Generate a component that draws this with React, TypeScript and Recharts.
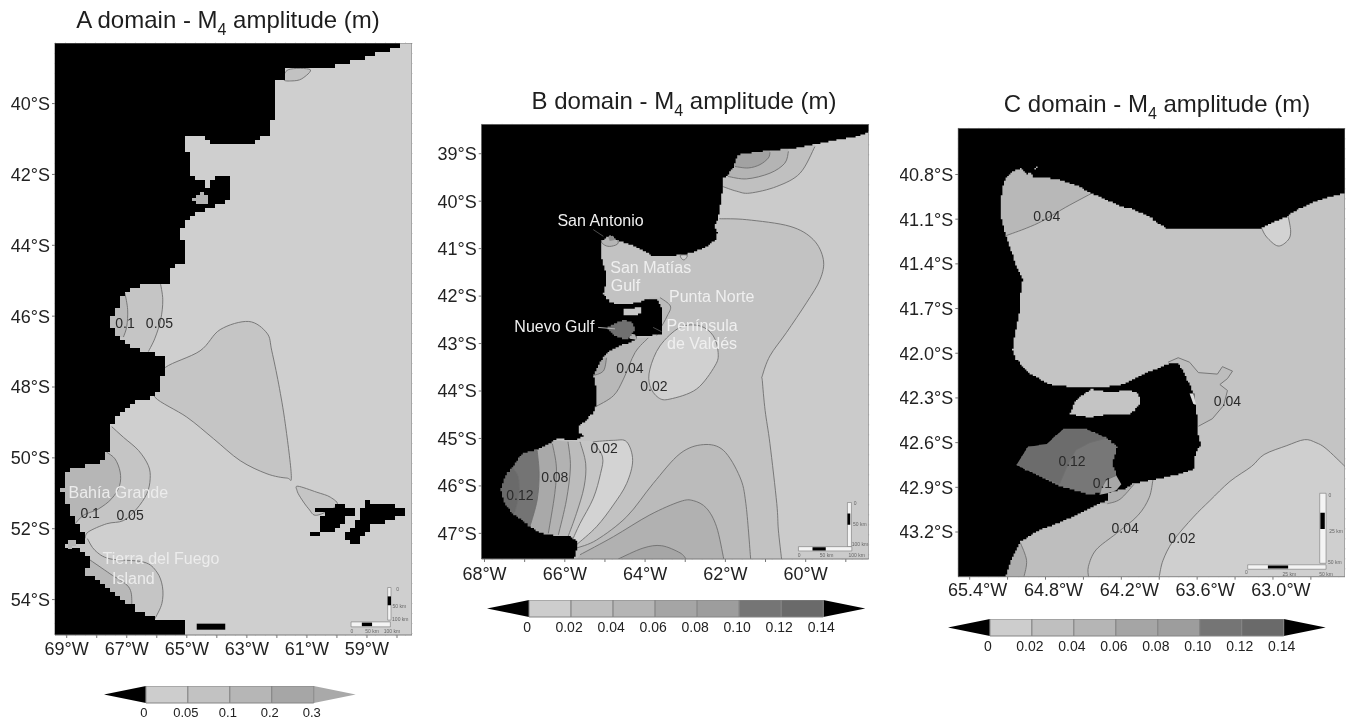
import React from 'react';
import { ScatterChart, Scatter, XAxis, YAxis, CartesianGrid } from 'recharts';

type P = [number, number];
const FONT = '"Liberation Sans", Arial, sans-serif';

/* ---------- Panel A (lon, lat) ---------- */
const aLonTicks = [-69, -68, -67, -66, -65, -64, -63, -62, -61, -60, -59, -58];
const aLonLabelled = [-69, -67, -65, -63, -61, -59];
const aLatTicks = [-40, -42, -44, -46, -48, -50, -52, -54];
const aLand: P[] = [[-57.98,-38.1],[-57.98,-38.4],[-58.28,-38.5],[-58.5,-38.54],[-59.06,-38.73],[-59.5,-38.8],[-60,-38.92],[-60.56,-39.01],[-60.94,-39.04],[-61.61,-39.04],[-61.78,-39.3],[-62.02,-39.48],[-62.06,-40.09],[-62.11,-40.33],[-62.22,-40.89],[-62.56,-40.99],[-63.06,-41.19],[-63.94,-41.19],[-64.33,-40.99],[-64.83,-40.89],[-65,-40.83],[-65.13,-41.08],[-64.94,-41.5],[-64.94,-41.88],[-65.02,-41.97],[-64.78,-42.16],[-64.44,-42.21],[-64.44,-42.37],[-64.11,-42.37],[-64.2,-42.16],[-63.94,-42.04],[-63.64,-42.07],[-63.5,-42.39],[-63.56,-42.72],[-63.83,-42.86],[-64.17,-42.91],[-64.33,-42.96],[-64.67,-43.1],[-64.89,-43.24],[-65.17,-43.57],[-65.26,-43.66],[-65.14,-43.99],[-65.14,-44.51],[-65.39,-44.6],[-65.61,-44.74],[-65.5,-45.07],[-66.11,-45.07],[-66.44,-45.12],[-66.94,-45.28],[-67.22,-45.59],[-67.33,-45.87],[-67.61,-46.1],[-67.5,-46.34],[-67.33,-46.57],[-66.78,-46.95],[-65.89,-47.12],[-65.72,-47.16],[-65.72,-47.54],[-65.83,-47.82],[-65.89,-48.06],[-66.06,-48.29],[-66.39,-48.34],[-66.78,-48.53],[-67.11,-48.76],[-67.44,-49],[-67.61,-49.18],[-67.61,-49.84],[-67.89,-50.12],[-68.33,-50.22],[-68.83,-50.36],[-69.02,-50.5],[-69.02,-50.83],[-69.17,-50.83],[-69.14,-51.11],[-69,-51.15],[-68.94,-51.58],[-68.72,-51.91],[-68.44,-52.23],[-68.33,-52.4],[-69.02,-52.38],[-69.02,-52.56],[-68.67,-52.52],[-68.28,-52.85],[-68.22,-53.08],[-68.39,-53.31],[-67.89,-53.55],[-67.44,-53.88],[-66.94,-54.16],[-66.5,-54.39],[-66,-54.58],[-65.14,-54.6],[-65.14,-55.2],[-69.6,-55.2],[-69.6,-38.1]];
const aFalkWest: P[] = [[-60.67,-51.39],[-60.11,-51.39],[-59.94,-51.3],[-59.78,-51.34],[-59.72,-51.44],[-59.28,-51.46],[-59.44,-51.62],[-59.67,-51.77],[-59.89,-51.95],[-60.06,-52.09],[-60.89,-52.23],[-60.89,-52.05],[-60.67,-52.05],[-60.56,-51.86],[-60.67,-51.72],[-60.44,-51.58],[-60.67,-51.53]];
const aFalkEast: P[] = [[-59,-51.2],[-58.83,-51.25],[-58.33,-51.31],[-57.78,-51.44],[-57.76,-51.6],[-57.94,-51.67],[-58.22,-51.81],[-58.78,-51.91],[-58.89,-52.09],[-59.24,-52.23],[-59.28,-52.4],[-59.5,-52.38],[-59.72,-52.19],[-59.72,-52.05],[-59.44,-51.86],[-59.17,-51.58],[-59.17,-51.39]];
const aBlock: P[] = [[-64.67,-54.68],[-63.72,-54.68],[-63.72,-54.85],[-64.67,-54.85]];
const aWedge: P[] = [[-62.94,-46.15],[-62.33,-46.48],[-62.17,-46.98],[-61.94,-47.92],[-61.72,-49.04],[-61.52,-50.5],[-61.67,-50.57],[-62.33,-50.45],[-63.22,-50.08],[-64.11,-49.46],[-65,-48.85],[-66.06,-48.29],[-66,-47.9],[-65.72,-47.45],[-64.56,-46.98],[-63.89,-46.38]];
const aP46Out: P[] = [[-65.89,-45.02],[-65.8,-45.54],[-65.87,-46.1],[-66.06,-46.62],[-66.28,-47]];
const aP46OutEnd: P[] = [[-67.89,-47],[-67.89,-45.02]];
const aP46In: P[] = [[-67.06,-45.35],[-66.97,-45.82],[-67,-46.29],[-67.11,-46.59]];
const aP46InEnd: P[] = [[-67.89,-46.59],[-67.89,-45.35]];
const aTop: P[] = [[-61.61,-39.04],[-60.89,-39.04],[-61.17,-39.3],[-61.5,-39.36],[-61.78,-39.32]];
const aBahiaOut: P[] = [[-67.5,-49.12],[-67.11,-49.42],[-66.61,-49.79],[-66.28,-50.22],[-66.22,-50.59],[-66.33,-51.01],[-66.67,-51.44],[-67.11,-51.77],[-67.67,-51.86],[-68.28,-52.09],[-68.39,-52.28]];
const aBahiaOutEnd: P[] = [[-69.3,-52.28],[-69.3,-49.12]];
const aBahiaIn: P[] = [[-67.67,-49.84],[-67.39,-50.03],[-67.22,-50.4],[-67.24,-50.78],[-67.5,-51.15],[-67.94,-51.44],[-68.44,-51.62],[-68.72,-51.86]];
const aBahiaInEnd: P[] = [[-69.3,-51.86],[-69.3,-49.84]];
const aTdfOut: P[] = [[-68.31,-52.28],[-68.06,-52.61],[-67.56,-52.85],[-66.44,-52.94],[-66,-53.22],[-65.81,-53.64],[-65.83,-54.11],[-66.06,-54.54]];
const aTdfOutEnd: P[] = [[-66.5,-54.7],[-69.3,-54.7],[-69.3,-52.28]];
const aTdfIn: P[] = [[-68.28,-52.85],[-67.56,-53.27],[-66.94,-53.64],[-66.83,-54.07],[-66.89,-54.25]];
const aTdfInEnd: P[] = [[-69.3,-54.25],[-69.3,-52.85]];
const aFalkContour: P[] = [[-61.3,-50.8],[-60.67,-50.97],[-60.22,-51.11],[-60,-51.34],[-60.67,-51.62],[-60.94,-51.44],[-61.22,-51.11],[-61.33,-50.92]];
const aGulf: P[] = [[-64.89,-42.69],[-64.56,-42.52],[-64.33,-42.63],[-64.36,-42.86],[-64.56,-42.84]];
const aChannel: P[] = [[-69.02,-52.33],[-68.67,-52.33],[-68.67,-52.52],[-69.02,-52.56]];
const aLabelsDark = [
  { lon: -67.06, lat: -46.2, text: '0.1' }, { lon: -65.91, lat: -46.18, text: '0.05' },
  { lon: -68.22, lat: -51.55, text: '0.1' }, { lon: -66.89, lat: -51.6, text: '0.05' },
];
const aLabelsWhite = [
  { lon: -67.28, lat: -50.99, text: 'Bahía Grande' }, { lon: -65.86, lat: -52.83, text: 'Tierra del Fuego' },
  { lon: -66.78, lat: -53.41, text: 'Island' },
];
const aScaleH: P[] = [[-59.53,-54.63],[-58.22,-54.63],[-58.22,-54.77],[-59.53,-54.77]];
const aScaleHBlack: P[] = [[-59.17,-54.65],[-58.83,-54.65],[-58.83,-54.75],[-59.17,-54.75]];
const aScaleV: P[] = [[-58.31,-53.66],[-58.2,-53.66],[-58.2,-54.58],[-58.31,-54.58]];
const aScaleVBlack: P[] = [[-58.31,-53.91],[-58.2,-53.91],[-58.2,-54.16],[-58.31,-54.16]];
const aScaleText = [
  { lon: -59.5, lat: -54.89, text: '0' }, { lon: -58.83, lat: -54.89, text: '50 km' }, { lon: -58.17, lat: -54.89, text: '100 km' },
  { lon: -57.98, lat: -53.69, text: '0' }, { lon: -57.92, lat: -54.19, text: '50 km' }, { lon: -57.89, lat: -54.56, text: '100 km' },
];

/* ---------- Panel B ---------- */
const bLonTicks = [-68, -67, -66, -65, -64, -63, -62, -61, -60, -59];
const bLonLabelled = [-68, -66, -64, -62, -60];
const bLatTicks = [-39, -40, -41, -42, -43, -44, -45, -46, -47];
const bLand: P[] = [[-58.3,-38.2],[-58.3,-38.5],[-58.73,-38.64],[-59.4,-38.74],[-60.23,-38.88],[-61.06,-38.95],[-61.68,-39.02],[-61.79,-39.3],[-62.05,-39.55],[-62.09,-39.9],[-62.15,-40.25],[-62.22,-40.49],[-62.3,-40.51],[-62.2,-40.67],[-62.24,-40.81],[-62.43,-40.95],[-62.8,-41.09],[-63.22,-41.14],[-63.84,-41.14],[-64.05,-41.02],[-64.38,-40.91],[-64.71,-40.81],[-64.84,-40.72],[-64.96,-40.77],[-65.08,-40.84],[-65.11,-41.16],[-65,-41.44],[-64.96,-41.72],[-65.04,-41.96],[-64.88,-42.14],[-64.54,-42.17],[-64.21,-42.14],[-64,-42.08],[-63.84,-42.05],[-63.67,-42.1],[-63.59,-42.28],[-63.57,-42.81],[-63.88,-42.83],[-64.17,-42.85],[-64.25,-42.95],[-64.54,-43.02],[-64.88,-43.16],[-65.13,-43.4],[-65.29,-43.7],[-65.21,-43.99],[-65.23,-44.34],[-65.29,-44.48],[-65.5,-44.65],[-65.67,-44.76],[-65.67,-44.9],[-65.5,-44.93],[-65.71,-45.04],[-66.16,-45],[-66.46,-45.14],[-66.66,-45.23],[-67.04,-45.32],[-67.29,-45.6],[-67.49,-45.81],[-67.6,-46.09],[-67.49,-46.4],[-67.29,-46.61],[-66.87,-46.86],[-66.62,-47],[-66.21,-47.05],[-65.87,-47.07],[-65.71,-47.17],[-65.71,-47.35],[-65.79,-47.7],[-68.3,-47.7],[-68.3,-38.2]];
const bMid: P[] = [[-62.15,-40.37],[-61.47,-40.39],[-60.39,-40.53],[-59.81,-40.81],[-59.56,-41.23],[-59.64,-41.65],[-59.98,-42.14],[-60.48,-42.77],[-60.89,-43.26],[-61.08,-43.68],[-61.08,-43.78],[-61.01,-44.41],[-60.89,-45.11],[-60.72,-46.37],[-60.68,-46.93],[-60.6,-47.54]];
const bMidEnd: P[] = [[-66,-47.54],[-66,-40.37]];
const bTongue: P[] = [[-65.29,-45.07],[-64.79,-45.04],[-64.46,-45.07],[-64.31,-45.46],[-64.46,-45.95],[-64.79,-46.4],[-65.21,-46.86],[-65.71,-47.24]];
const bTongueEnd: P[] = [[-66,-47.24],[-66,-45.07]];
const bH: P[] = [[-65.71,-47.31],[-65.21,-47.14],[-64.46,-46.65],[-63.8,-45.95],[-63.13,-45.32],[-62.55,-45.13],[-62.05,-45.25],[-61.64,-45.81],[-61.49,-46.37],[-61.37,-47.54]];
const bHEnd: P[] = [[-65.79,-47.54]];
const bI: P[] = [[-65.62,-47.45],[-64.79,-47.07],[-63.88,-46.61],[-63.13,-46.33],[-62.8,-46.31],[-62.47,-46.47],[-62.22,-46.86],[-62.04,-47.54]];
const bIEnd: P[] = [[-65.7,-47.54]];
const bJ: P[] = [[-64.67,-47.54],[-64.05,-47.31],[-63.59,-47.26],[-63.13,-47.41],[-62.98,-47.54]];
const bJEnd: P[] = [[-62.98,-47.6],[-64.67,-47.6]];
const bF: P[] = [[-65.29,-45.07],[-65.06,-45.39],[-65.11,-45.74],[-65.29,-46.26],[-65.62,-46.79],[-65.81,-47.14]];
const bE: P[] = [[-65.62,-45.07],[-65.48,-45.53],[-65.52,-46.02],[-65.71,-46.58],[-65.92,-47.07]];
const bD: P[] = [[-65.92,-45.07],[-65.86,-45.6],[-65.96,-46.3],[-66.16,-47.03]];
const bC: P[] = [[-66.31,-45.11],[-66.21,-45.6],[-66.25,-46.16],[-66.41,-47]];
const bB: P[] = [[-66.69,-45.25],[-66.64,-45.74],[-66.69,-46.3],[-66.87,-46.86]];
const bA: P[] = [[-67.29,-45.63],[-67.16,-45.81],[-67.14,-46.16],[-67.24,-46.54]];
const bWest: P[] = [[-68,-47.3],[-68,-44.9]];
const bValdes: P[] = [[-63.13,-42.66],[-62.63,-42.63],[-62.3,-42.84],[-62.18,-43.19],[-62.26,-43.47],[-62.72,-43.96],[-63.38,-44.17],[-63.67,-44.14],[-63.88,-43.89],[-63.88,-43.54],[-63.63,-43.05]];
const bW04: P[] = [[-63.92,-42.88],[-64.25,-43.19],[-64.54,-43.75],[-64.79,-44.1],[-65.25,-44.34]];
const bW04End: P[] = [[-66,-44.34],[-66,-42.88]];
const bW06: P[] = [[-64.96,-43.3],[-65.04,-43.58],[-65.31,-43.68]];
const bW06End: P[] = [[-66,-43.68],[-66,-43.3]];
const bPenBand: P[] = [[-63.63,-42.03],[-63.37,-42.21],[-63.45,-42.42],[-63.63,-42.7],[-63.71,-42.83]];
const bPenBandEnd: P[] = [[-63.9,-42.83],[-63.9,-42.03]];
const bNuevoSmall: P[] = [[-64.46,-42.77],[-64.25,-42.81],[-64.2,-42.92],[-64.38,-42.9]];
const bNuevo: P[] = [[-64.98,-42.66],[-64.54,-42.5],[-64.34,-42.56],[-64.25,-42.7],[-64.34,-42.84],[-64.46,-42.92],[-64.75,-42.83]];
const bSanJose: P[] = [[-64.54,-42.27],[-64.09,-42.24],[-64.09,-42.38],[-64.38,-42.41],[-64.56,-42.37]];
const bSanAnt: P[] = [[-65.08,-40.83],[-65,-40.93],[-64.84,-40.95],[-64.67,-40.88],[-64.79,-40.7]];
const bSanAntCore: P[] = [[-64.92,-40.75],[-64.8,-40.73],[-64.75,-40.82],[-64.88,-40.84]];
const bBay: P[] = [[-63.12,-41.14],[-62.95,-41.14],[-63.01,-41.23],[-63.08,-41.22]];
const bRing1: P[] = [[-62.07,-39.69],[-61.72,-39.79],[-61.39,-39.83],[-60.72,-39.69],[-60.14,-39.41],[-59.77,-38.85]];
const bRing1End: P[] = [[-59.77,-38.6],[-62.5,-38.6],[-62.5,-39.69]];
const bRing2: P[] = [[-61.93,-39.48],[-61.47,-39.53],[-60.89,-39.41],[-60.52,-39.2],[-60.43,-38.95]];
const bRing2End: P[] = [[-60.43,-38.7],[-62.5,-38.7],[-62.5,-39.48]];
const bRing3: P[] = [[-61.76,-39.27],[-61.43,-39.3],[-61.14,-39.23],[-60.93,-39.09],[-60.89,-38.97]];
const bRing3End: P[] = [[-60.89,-38.7],[-62.5,-38.7],[-62.5,-39.27]];
const bLeadSan: P[] = [[-65.29,-40.6],[-65.04,-40.74]];
const bLeadNuevo: P[] = [[-65.17,-42.66],[-64.75,-42.69]];
const bLeadPen: P[] = [[-63.8,-42.66],[-63.59,-42.75]];
const bLabelsDark = [
  { lon: -64.38, lat: -43.51, text: '0.04' }, { lon: -63.78, lat: -43.9, text: '0.02' },
  { lon: -65.02, lat: -45.21, text: '0.02' }, { lon: -66.25, lat: -45.81, text: '0.08' }, { lon: -67.12, lat: -46.19, text: '0.12' },
];
const bLabelsWhite = [
  { lon: -65.11, lat: -40.41, text: 'San Antonio' }, { lon: -63.86, lat: -41.39, text: 'San Matías' },
  { lon: -64.49, lat: -41.77, text: 'Gulf' }, { lon: -62.34, lat: -42, text: 'Punta Norte' },
  { lon: -66.26, lat: -42.65, text: 'Nuevo Gulf' }, { lon: -62.58, lat: -42.62, text: 'Península' }, { lon: -62.58, lat: -43, text: 'de Valdés' },
];
const bScaleH: P[] = [[-60.18,-47.28],[-58.85,-47.28],[-58.85,-47.37],[-60.18,-47.37]];
const bScaleHBlack: P[] = [[-59.83,-47.29],[-59.5,-47.29],[-59.5,-47.36],[-59.83,-47.36]];
const bScaleV: P[] = [[-58.96,-46.35],[-58.86,-46.35],[-58.86,-47.28],[-58.96,-47.28]];
const bScaleVBlack: P[] = [[-58.96,-46.58],[-58.89,-46.58],[-58.89,-46.82],[-58.96,-46.82]];
const bScaleText = [
  { lon: -60.16, lat: -47.45, text: '0' }, { lon: -59.48, lat: -47.45, text: '50 km' }, { lon: -58.73, lat: -47.45, text: '100 km' },
  { lon: -58.77, lat: -46.37, text: '0' }, { lon: -58.65, lat: -46.81, text: '50 km' }, { lon: -58.65, lat: -47.22, text: '100 km' },
];

/* ---------- Panel C ---------- */
const cLonTicks = [-65.4, -65.1, -64.8, -64.5, -64.2, -63.9, -63.6, -63.3, -63, -62.7];
const cLonLabelled = [-65.4, -64.8, -64.2, -63.6, -63];
const cLatTicks = [-40.8, -41.1, -41.4, -41.7, -42, -42.3, -42.6, -42.9, -43.2];
const cLand: P[] = [[-62.3,-40.9],[-62.55,-40.95],[-62.68,-40.99],[-62.79,-41.03],[-62.88,-41.08],[-62.99,-41.12],[-63.09,-41.16],[-63.84,-41.16],[-63.9,-41.13],[-63.98,-41.08],[-64.11,-41.03],[-64.21,-41.01],[-64.42,-40.93],[-64.56,-40.87],[-64.71,-40.83],[-64.82,-40.82],[-64.9,-40.82],[-64.91,-40.78],[-64.86,-40.75],[-64.94,-40.8],[-64.99,-40.76],[-65.06,-40.78],[-65.13,-40.85],[-65.15,-40.96],[-65.16,-41.06],[-65.12,-41.2],[-65.08,-41.29],[-65.04,-41.4],[-64.98,-41.51],[-65,-41.62],[-65.01,-41.76],[-65.04,-41.87],[-65.06,-41.98],[-65.03,-42.05],[-64.93,-42.14],[-64.77,-42.21],[-64.58,-42.23],[-64.37,-42.23],[-64.19,-42.21],[-63.98,-42.12],[-63.82,-42.07],[-63.75,-42.07],[-63.69,-42.16],[-63.63,-42.27],[-63.6,-42.43],[-63.59,-42.56],[-63.57,-42.61],[-63.62,-42.7],[-63.62,-42.78],[-63.77,-42.82],[-63.95,-42.85],[-64.11,-42.88],[-64.17,-42.91],[-64.31,-42.94],[-64.31,-42.99],[-64.4,-43.02],[-64.58,-43.1],[-64.85,-43.19],[-65,-43.27],[-65.07,-43.39],[-65.15,-43.6],[-65.7,-43.6],[-65.7,-40.3],[-62.3,-40.3]];
const cSanJose: P[] = [[-64.45,-42.24],[-64.32,-42.26],[-64.13,-42.25],[-64.06,-42.28],[-64.05,-42.35],[-64.13,-42.41],[-64.29,-42.41],[-64.44,-42.43],[-64.61,-42.41],[-64.56,-42.31]];
const cNuevo: P[] = [[-65.03,-42.75],[-64.94,-42.63],[-64.79,-42.61],[-64.66,-42.51],[-64.48,-42.51],[-64.32,-42.57],[-64.23,-42.63],[-64.27,-42.74],[-64.24,-42.82],[-64.31,-42.93],[-64.45,-42.95],[-64.69,-42.89],[-64.9,-42.8]];
const cNuevoDeep: P[] = [[-64.32,-42.57],[-64.45,-42.6],[-64.56,-42.65],[-64.62,-42.74],[-64.69,-42.88]];
const cNuevoDeepEnd: P[] = [[-64.9,-42.8],[-65.03,-42.75],[-64.94,-42.63],[-64.79,-42.61],[-64.66,-42.51],[-64.48,-42.51]];
const cNuevoLight: P[] = [[-64.24,-42.82],[-64.32,-42.85],[-64.36,-42.91],[-64.37,-42.95]];
const cNuevoLightEnd: P[] = [[-64.31,-42.94],[-64.24,-42.92],[-64.2,-42.88]];
const cOuter: P[] = [[-64.1,-42.88],[-64.21,-42.98],[-64.31,-43.01]];
const cOuterEnd: P[] = [[-64.4,-43.01],[-64.4,-42.9]];
const c04: P[] = [[-63.95,-42.85],[-63.98,-42.97],[-64.07,-43.09],[-64.24,-43.21],[-64.4,-43.32],[-64.46,-43.43],[-64.46,-43.5]];
const c04End: P[] = [[-65.49,-43.5],[-65.49,-42.85]];
const c02: P[] = [[-62.43,-42.76],[-62.58,-42.64],[-62.66,-42.6],[-62.75,-42.58],[-62.89,-42.62],[-63.07,-42.68],[-63.17,-42.76],[-63.34,-42.86],[-63.5,-42.99],[-63.63,-43.1],[-63.79,-43.26],[-63.87,-43.39],[-63.9,-43.5]];
const c02End: P[] = [[-62.43,-43.5]];
const cSw: P[] = [[-65,-43.27],[-64.95,-43.39],[-64.97,-43.5]];
const cSwEnd: P[] = [[-65.2,-43.5],[-65.2,-43.27]];
const cNe: P[] = [[-63.83,-42.06],[-63.75,-42.03],[-63.66,-42.06],[-63.59,-42.13],[-63.44,-42.14],[-63.4,-42.09],[-63.32,-42.12],[-63.36,-42.17],[-63.42,-42.21],[-63.36,-42.25],[-63.39,-42.35],[-63.48,-42.44],[-63.59,-42.49]];
const cNeEnd: P[] = [[-63.8,-42.49]];
const cSliver: P[] = [[-63.66,-42.27],[-63.63,-42.27],[-63.61,-42.34],[-63.63,-42.34]];
const cNw: P[] = [[-65.11,-41.21],[-64.95,-41.16],[-64.82,-41.11],[-64.64,-41.02],[-64.42,-40.92]];
const cNwEnd: P[] = [[-64.42,-40.6],[-65.3,-40.6],[-65.3,-41.21]];
const cNorth: P[] = [[-63.09,-41.16],[-63.05,-41.22],[-62.96,-41.28],[-62.88,-41.24],[-62.86,-41.18],[-62.88,-41.08]];
const cNorthEnd: P[] = [[-63.09,-41.08]];
const cLabelsDark = [
  { lon: -64.79, lat: -41.08, text: '0.04' }, { lon: -63.36, lat: -42.32, text: '0.04' }, { lon: -64.59, lat: -42.72, text: '0.12' },
  { lon: -64.35, lat: -42.87, text: '0.1' }, { lon: -64.17, lat: -43.17, text: '0.04' }, { lon: -63.72, lat: -43.24, text: '0.02' },
];
const cScaleH: P[] = [[-63.2,-43.42],[-62.58,-43.42],[-62.58,-43.45],[-63.2,-43.45]];
const cScaleHBlack: P[] = [[-63.04,-43.425],[-62.88,-43.425],[-62.88,-43.445],[-63.04,-43.445]];
const cScaleV: P[] = [[-62.63,-42.94],[-62.58,-42.94],[-62.58,-43.41],[-62.63,-43.41]];
const cScaleVBlack: P[] = [[-62.625,-43.07],[-62.59,-43.07],[-62.59,-43.18],[-62.625,-43.18]];
const cScaleText = [
  { lon: -63.21, lat: -43.47, text: '0' }, { lon: -62.87, lat: -43.48, text: '25 km' }, { lon: -62.58, lat: -43.48, text: '50 km' },
  { lon: -62.55, lat: -42.95, text: '0' }, { lon: -62.5, lat: -43.19, text: '25 km' }, { lon: -62.51, lat: -43.4, text: '50 km' },
];

/* ---------- Colour bars ---------- */
const barATicks = ['0', '0.05', '0.1', '0.2', '0.3'];
const barAColors = ['#cdcdcd', '#c2c2c2', '#b6b6b6', '#a6a6a6'];
const barBTicks = ['0', '0.02', '0.04', '0.06', '0.08', '0.10', '0.12', '0.14'];
const barBColors = ['#cdcdcd', '#bfbfbf', '#b5b5b5', '#a5a5a5', '#9d9d9d', '#757575', '#6a6a6a'];

/* ---------- Drawing helpers ---------- */
const toPts = (a: P[]) => a.map(([lon, lat]) => ({ lon, lat }));
const noShape = () => <g />;
const dOf = (pts: any[], close: boolean) =>
  pts.map((p, i) => `${i ? 'L' : 'M'}${p.x},${p.y}`).join('') + (close ? 'Z' : '');

// Catmull-Rom spline through the points, for the smooth contour lines.
function spline(pts: any[], closed: boolean, start = true) {
  const n = pts.length;
  const at = (i: number) => (closed ? pts[(i + n) % n] : pts[Math.max(0, Math.min(n - 1, i))]);
  let d = start ? `M${pts[0].x},${pts[0].y}` : `L${pts[0].x},${pts[0].y}`;
  const last = closed ? n : n - 1;
  for (let i = 0; i < last; i++) {
    const p0 = at(i - 1), p1 = at(i), p2 = at(i + 1), p3 = at(i + 2);
    d += `C${p1.x + (p2.x - p0.x) / 6},${p1.y + (p2.y - p0.y) / 6} ${p2.x - (p3.x - p1.x) / 6},${p2.y - (p3.y - p1.y) / 6} ${p2.x},${p2.y}`;
  }
  return d + (closed ? 'Z' : '');
}

// Blocky outline: the model's coast is drawn cell by cell.
function stair(pts: any[], cx: number, cy: number) {
  const snapX = (v: number) => Math.round(v / cx) * cx;
  const snapY = (v: number) => Math.round(v / cy) * cy;
  let d = '';
  let prev: any = null;
  const n = pts.length;
  for (let i = 0; i <= n; i++) {
    const b = pts[i % n];
    if (!prev) {
      d = `M${snapX(b.x)},${snapY(b.y)}`;
      prev = b;
      continue;
    }
    const steps = Math.max(1, Math.ceil(Math.max(Math.abs(b.x - prev.x) / cx, Math.abs(b.y - prev.y) / cy)));
    for (let k = 1; k <= steps; k++) {
      const x = snapX(prev.x + ((b.x - prev.x) * k) / steps);
      const y = snapY(prev.y + ((b.y - prev.y) * k) / steps);
      d += `H${x}V${y}`;
    }
    prev = b;
  }
  return d + 'Z';
}

// Straight outlined polygon; with a tail, only the first part is stroked.
function area(name: string, curve: P[], tail: P[], fill: string, stroke = '#6f6f6f', sw = 0.9) {
  const n = curve.length;
  return (
    <Scatter
      key={name}
      name={name}
      data={toPts([...curve, ...tail])}
      isAnimationActive={false}
      shape={noShape}
      line={(p: any) => (
        <g>
          {fill !== 'none' && <path d={dOf(p.points, true)} fill={fill} stroke="none" />}
          {stroke !== 'none' && (
            <path d={dOf(p.points.slice(0, n), tail.length === 0 && fill !== 'none')} fill="none" stroke={stroke} strokeWidth={sw} />
          )}
        </g>
      )}
    />
  );
}
// Smooth contour: curve is a spline, tail closes the fill behind the land.
function contour(name: string, curve: P[], tail: P[], fill: string) {
  const n = curve.length;
  const closed = tail.length === 0;
  return (
    <Scatter
      key={name}
      name={name}
      data={toPts([...curve, ...tail])}
      isAnimationActive={false}
      shape={noShape}
      line={(p: any) => {
        const c = p.points.slice(0, n);
        const fillD = closed ? spline(c, true) : spline(c, false) + p.points.slice(n).map((q: any) => `L${q.x},${q.y}`).join('') + 'Z';
        return (
          <g>
            <path d={fillD} fill={fill} stroke="none" />
            <path d={spline(c, closed)} fill="none" stroke="#6f6f6f" strokeWidth={0.9} />
          </g>
        );
      }}
    />
  );
}
function blocky(name: string, pts: P[], fill: string, cx: number, cy: number) {
  return (
    <Scatter
      key={name}
      name={name}
      data={toPts(pts)}
      isAnimationActive={false}
      shape={noShape}
      line={(p: any) => <path d={stair(p.points, cx, cy)} fill={fill} stroke="none" />}
    />
  );
}
function textLayer(name: string, data: any[], fill: string, size: number) {
  return (
    <Scatter
      key={name}
      name={name}
      data={data}
      isAnimationActive={false}
      shape={(p: any) => (
        <text x={p.cx} y={p.cy} textAnchor="middle" dominantBaseline="central" fill={fill} fontSize={size} fontFamily={FONT}>
          {p.payload.text}
        </text>
      )}
    />
  );
}
const rectOf = (x: [number, number], y: [number, number]): P[] => [[x[0], y[1]], [x[1], y[1]], [x[1], y[0]], [x[0], y[0]]];

function Title({ x, y, head }: { x: number; y: number; head: string }) {
  return (
    <text x={x} y={y} textAnchor="middle" fontSize={24} fontFamily={FONT} fill="#1e1e1e">
      {head} domain - M<tspan dy={7} fontSize={16}>4</tspan><tspan dy={-7}> amplitude (m)</tspan>
    </text>
  );
}

function MapPanel(props: any) {
  const { left, width, height, margin, yWidth, xAxisH, xDomain, yDomain, xTicks, yTicks, xLabelled, xDigits, yDigits, tickDx, tickGap, title, children } = props;
  const sea = rectOf(xDomain, yDomain);
  return (
    <div style={{ position: 'absolute', left, top: 0 }}>
      <ScatterChart width={width} height={height} margin={margin} style={{ fontFamily: FONT }}>
        <XAxis
          type="number" dataKey="lon" domain={xDomain} ticks={xTicks} interval={0} allowDataOverflow
          height={xAxisH} tickSize={3} tickMargin={tickGap}
          axisLine={{ stroke: '#777' }} tickLine={{ stroke: '#777' }}
          tick={{ fontSize: 18, fill: '#222', fontFamily: FONT, dx: tickDx }}
          tickFormatter={(v: number) => (xLabelled.includes(v) ? `${Math.abs(v).toFixed(xDigits)}°W` : '')}
        />
        <YAxis
          type="number" dataKey="lat" domain={yDomain} ticks={yTicks} interval={0} allowDataOverflow
          width={yWidth} tickSize={3} tickMargin={2}
          axisLine={{ stroke: '#777' }} tickLine={{ stroke: '#777' }}
          tick={{ fontSize: 18, fill: '#222', fontFamily: FONT }}
          tickFormatter={(v: number) => `${Math.abs(v).toFixed(yDigits)}°S`}
        />
        {area('sea', sea, [], props.seaColor, 'none')}
        {children}
        <CartesianGrid stroke="rgba(130,130,130,0.45)" strokeDasharray="1 9" />
        {area('frame', sea, [], 'none', '#7a7a7a', 1)}
        {props.labels}
        <Title {...title} />
      </ScatterChart>
    </div>
  );
}

function ColorBar({ left, top, plotWidth, ticks, colors, rightTip, fontSize }: any) {
  const n = colors.length;
  const pad = 20;
  return (
    <div style={{ position: 'absolute', left: left - pad, top }}>
      <ScatterChart width={plotWidth + 2 * pad} height={42} margin={{ top: 0, right: pad, bottom: 0, left: pad }} style={{ fontFamily: FONT }}>
        <XAxis
          type="number" dataKey="lon" domain={[-1, n + 1]} ticks={ticks.map((_: string, i: number) => i)} interval={0}
          height={25} axisLine={false} tickLine={false} tickMargin={5} tickSize={0}
          tick={{ fontSize, fill: '#222', fontFamily: FONT, dx: -2 }}
          tickFormatter={(v: number) => ticks[v]}
        />
        <YAxis type="number" dataKey="lat" domain={[0, 1]} hide />
        {area('tipLeft', [[-1, 0.5], [0, 1], [0, 0]], [], '#000', 'none')}
        {area('tipRight', [[n + 1, 0.5], [n, 1], [n, 0]], [], rightTip, 'none')}
        {colors.map((c: string, i: number) => area(`cell${i}`, rectOf([i, i + 1], [0, 1]), [], c, '#858585', 1))}
      </ScatterChart>
    </div>
  );
}

const scale = (h: P[], hb: P[], v: P[], vb: P[]) => [
  area('sv', v, [], '#f4f4f4', '#777', 0.6), area('svb', vb, [], '#000', 'none'),
  area('sh', h, [], '#f4f4f4', '#777', 0.6), area('shb', hb, [], '#000', 'none'),
];

export default function App() {
  return (
    <div style={{ position: 'absolute', left: 0, top: 0, width: 1346, height: 721, background: '#fff', overflow: 'hidden', filter: 'blur(0.45px)' }}>
      <MapPanel
        left={0} width={420} height={680} margin={{ top: 43, right: 8, bottom: 5, left: 0 }} yWidth={55} xAxisH={40}
        xDomain={[-69.39, -57.5]} yDomain={[-55, -38.29]} xTicks={aLonTicks} yTicks={aLatTicks} xLabelled={aLonLabelled}
        xDigits={0} yDigits={0} tickDx={0} tickGap={4} seaColor="#cfcfcf" title={{ x: 228, y: 28, head: 'A' }}
        labels={[textLayer('aDark', aLabelsDark, '#2a2a2a', 14), textLayer('aWhite', aLabelsWhite, '#ececec', 16), textLayer('aScale', aScaleText, '#666', 5)]}
      >
        {contour('aWedge', aWedge, [], '#c5c5c5')}
        {contour('aP46Out', aP46Out, aP46OutEnd, '#c5c5c5')}
        {contour('aP46In', aP46In, aP46InEnd, '#bababa')}
        {contour('aTop', aTop, [], '#c2c2c2')}
        {contour('aBahiaOut', aBahiaOut, aBahiaOutEnd, '#c5c5c5')}
        {contour('aBahiaIn', aBahiaIn, aBahiaInEnd, '#b6b6b6')}
        {contour('aTdfOut', aTdfOut, aTdfOutEnd, '#c5c5c5')}
        {contour('aTdfIn', aTdfIn, aTdfInEnd, '#b8b8b8')}
        {contour('aFalkContour', aFalkContour, [], '#c5c5c5')}
        {blocky('aLand', aLand, '#000', 5, 4)}
        {blocky('aFalkWest', aFalkWest, '#000', 5, 4)}
        {blocky('aFalkEast', aFalkEast, '#000', 5, 4)}
        {area('aBlock', aBlock, [], '#000', 'none')}
        {blocky('aGulf', aGulf, '#b4b4b4', 4, 3)}
        {blocky('aChannel', aChannel, '#b4b4b4', 4, 3)}
        {scale(aScaleH, aScaleHBlack, aScaleV, aScaleVBlack)}
      </MapPanel>

      <MapPanel
        left={430} width={445} height={590} margin={{ top: 124.3, right: 6.3, bottom: 1, left: 0 }} yWidth={51.7} xAxisH={30}
        xDomain={[-68.07, -58.43]} yDomain={[-47.54, -38.38]} xTicks={bLonTicks} yTicks={bLatTicks} xLabelled={bLonLabelled}
        xDigits={0} yDigits={0} tickDx={0} tickGap={5} seaColor="#cbcbcb" title={{ x: 254, y: 109, head: 'B' }}
        labels={[textLayer('bDark', bLabelsDark, '#2a2a2a', 14), textLayer('bWhite', bLabelsWhite, '#efefef', 16), textLayer('bScale', bScaleText, '#666', 5)]}
      >
        {contour('bRing1', bRing1, bRing1End, '#c0c0c0')}
        {contour('bRing2', bRing2, bRing2End, '#b4b4b4')}
        {contour('bRing3', bRing3, bRing3End, '#a2a2a2')}
        {contour('bMid', bMid, bMidEnd, '#c2c2c2')}
        {contour('bValdes', bValdes, [], '#d0d0d0')}
        {contour('bW04', bW04, bW04End, '#b8b8b8')}
        {contour('bW06', bW06, bW06End, '#a8a8a8')}
        {contour('bPenBand', bPenBand, bPenBandEnd, '#bcbcbc')}
        {contour('bSanAnt', bSanAnt, [], '#b5b5b5')}
        {contour('bBay', bBay, [], '#d0d0d0')}
        {contour('bH', bH, bHEnd, '#bbbbbb')}
        {contour('bI', bI, bIEnd, '#b1b1b1')}
        {contour('bJ', bJ, bJEnd, '#a6a6a6')}
        {contour('bTongue', bTongue, bTongueEnd, '#d3d3d3')}
        {contour('bF', bF, bWest, '#c6c6c6')}
        {contour('bE', bE, bWest, '#bcbcbc')}
        {contour('bD', bD, bWest, '#b2b2b2')}
        {contour('bC', bC, bWest, '#a9a9a9')}
        {contour('bB', bB, bWest, '#747474')}
        {contour('bA', bA, bWest, '#6a6a6a')}
        {blocky('bLand', bLand, '#000', 1.6, 1.6)}
        {area('bSanAntCore', bSanAntCore, [], '#8c8c8c', 'none')}
        {blocky('bSanJose', bSanJose, '#c8c8c8', 1.6, 1.6)}
        {area('bNuevoSmall', bNuevoSmall, [], '#b0b0b0', 'none')}
        {blocky('bNuevo', bNuevo, '#707070', 1.6, 1.6)}
        {area('bLeadSan', bLeadSan, [], 'none', '#555')}
        {area('bLeadNuevo', bLeadNuevo, [], 'none', '#bbb')}
        {area('bLeadPen', bLeadPen, [], 'none', '#555')}
        {scale(bScaleH, bScaleHBlack, bScaleV, bScaleVBlack)}
      </MapPanel>

      <MapPanel
        left={900} width={446} height={610} margin={{ top: 128.3, right: 1, bottom: 3.3, left: 0 }} yWidth={58.3} xAxisH={30}
        xDomain={[-65.49, -62.43]} yDomain={[-43.5, -40.49]} xTicks={cLonTicks} yTicks={cLatTicks} xLabelled={cLonLabelled}
        xDigits={1} yDigits={1} tickDx={8} tickGap={4} seaColor="#c4c4c4" title={{ x: 257, y: 112, head: 'C' }}
        labels={[textLayer('cDark', cLabelsDark, '#2a2a2a', 14), textLayer('cScale', cScaleText, '#666', 5)]}
      >
        {contour('cNorth', cNorth, cNorthEnd, '#d2d2d2')}
        {contour('cNw', cNw, cNwEnd, '#b8b8b8')}
        {area('cNe', cNe, cNeEnd, '#bdbdbd')}
        {contour('c04', c04, c04End, '#bebebe')}
        {contour('c02', c02, c02End, '#cfcfcf')}
        {contour('cOuter', cOuter, cOuterEnd, '#b0b0b0')}
        {contour('cSw', cSw, cSwEnd, '#aeaeae')}
        {blocky('cLand', cLand, '#000', 1.6, 1.6)}
        {blocky('cSanJose', cSanJose, '#c4c4c4', 1.6, 1.6)}
        {area('cSliver', cSliver, [], '#dddddd', 'none')}
        {blocky('cNuevo', cNuevo, '#777777', 1.6, 1.6)}
        {area('cNuevoDeep', cNuevoDeep, cNuevoDeepEnd, '#6c6c6c')}
        {area('cNuevoLight', cNuevoLight, cNuevoLightEnd, '#a8a8a8')}
        {scale(cScaleH, cScaleHBlack, cScaleV, cScaleVBlack)}
      </MapPanel>

      <ColorBar left={104} top={686} plotWidth={251.7} ticks={barATicks} colors={barAColors} rightTip="#a9a9a9" fontSize={13} />
      <ColorBar left={486.7} top={600} plotWidth={378.3} ticks={barBTicks} colors={barBColors} rightTip="#000" fontSize={14} />
      <ColorBar left={948.3} top={619} plotWidth={377.7} ticks={barBTicks} colors={barBColors} rightTip="#000" fontSize={14} />
    </div>
  );
}
